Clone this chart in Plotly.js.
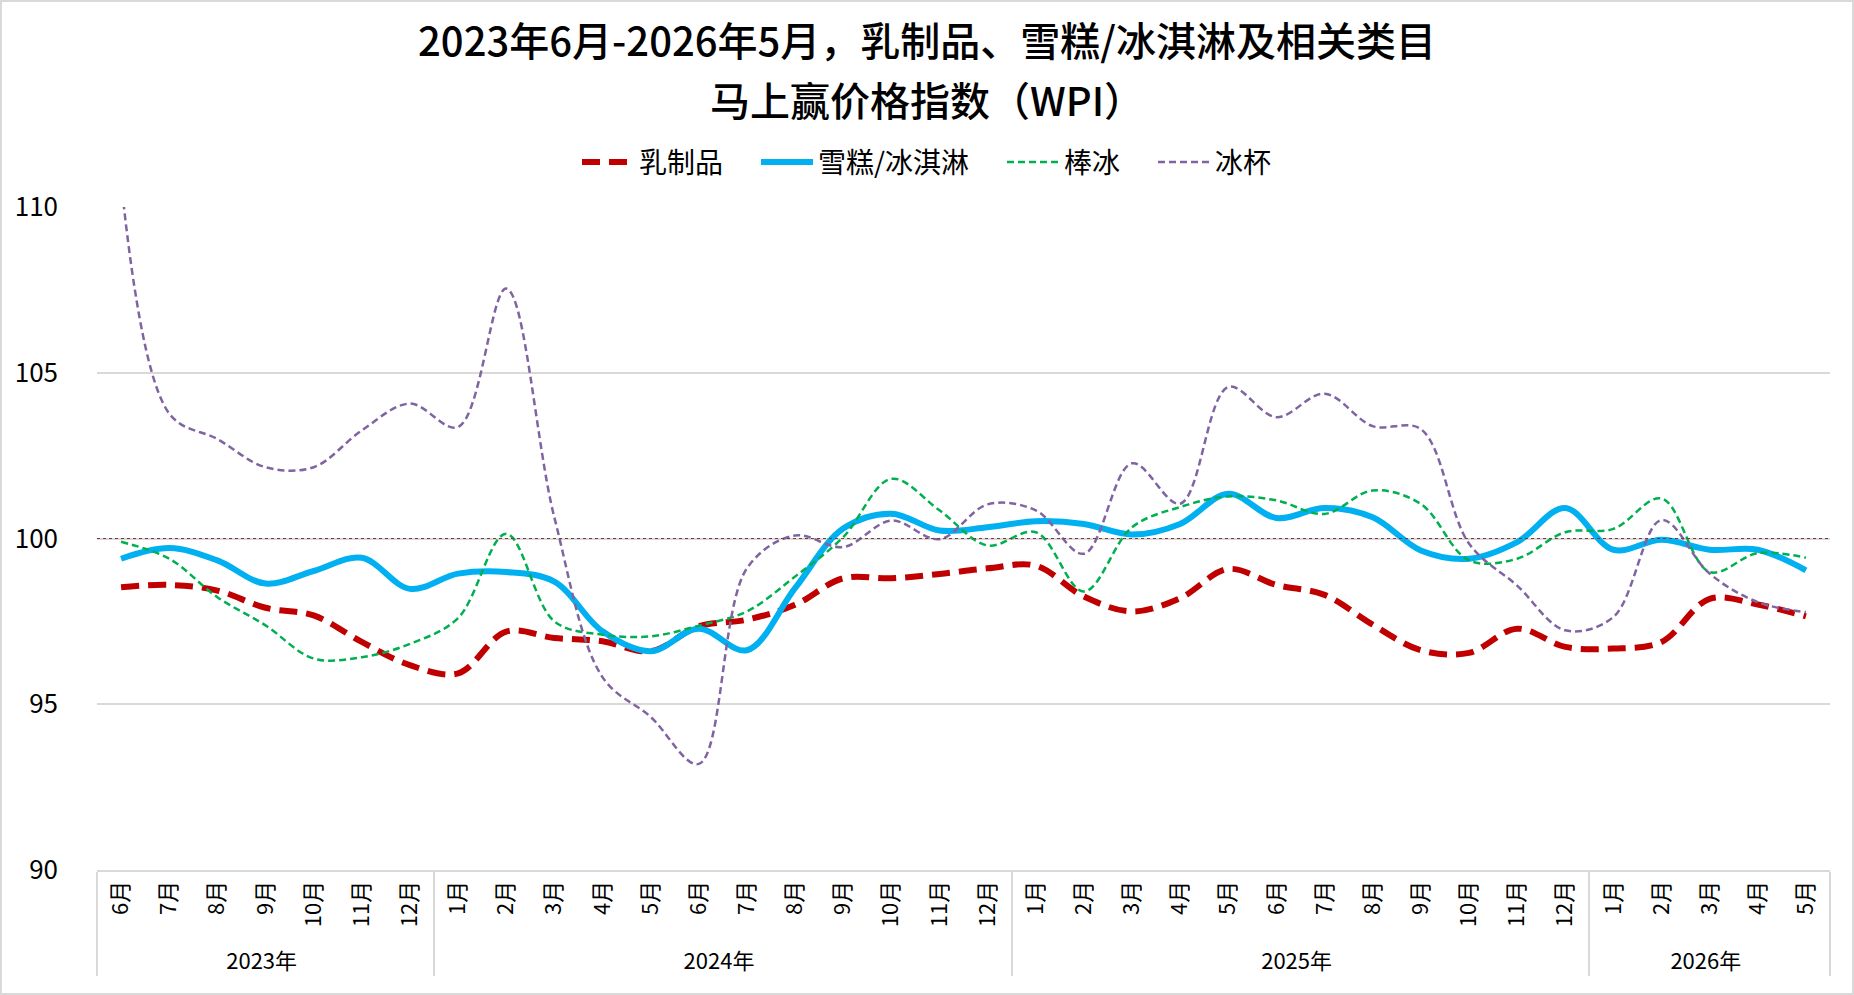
<!DOCTYPE html>
<html>
<head>
<meta charset="utf-8">
<script src="https://cdn.plot.ly/plotly-3.0.1.min.js"></script>
<style>
  html, body { margin: 0; padding: 0; background: #fff; }
  #wrap { position: relative; width: 1854px; height: 995px; }
  #myDiv { width: 1854px; height: 995px; }
  #frame { position: absolute; left: 0; top: 0; width: 1854px; height: 995px;
           box-sizing: border-box; border: 2px solid #d9d9d9; pointer-events: none; }
</style>
</head>
<body>
<div id="wrap">
  <div id="myDiv"></div>
  <div id="frame"></div>
</div>
<script>
// Month / year categories (Jun 2023 - May 2026)
var years  = ['2023年','2023年','2023年','2023年','2023年','2023年','2023年',
              '2024年','2024年','2024年','2024年','2024年','2024年','2024年','2024年','2024年','2024年','2024年','2024年',
              '2025年','2025年','2025年','2025年','2025年','2025年','2025年','2025年','2025年','2025年','2025年','2025年',
              '2026年','2026年','2026年','2026年','2026年'];
var months = ['6月','7月','8月','9月','10月','11月','12月',
              '1月','2月','3月','4月','5月','6月','7月','8月','9月','10月','11月','12月',
              '1月','2月','3月','4月','5月','6月','7月','8月','9月','10月','11月','12月',
              '1月','2月','3月','4月','5月'];

// WPI values
var dairy = [98.53, 98.60, 98.43, 97.91, 97.68, 96.88, 96.18,
             95.93, 97.19, 97.00, 96.90, 96.60, 97.35, 97.55, 98.00, 98.80, 98.80, 98.93, 99.10,
             99.18, 98.25, 97.80, 98.20, 99.08, 98.60, 98.30, 97.40, 96.63, 96.55, 97.28, 96.73,
             96.68, 96.88, 98.18, 98.01, 97.65];
var iceCream = [99.39, 99.71, 99.34, 98.64, 99.02, 99.42, 98.48,
                98.94, 98.99, 98.70, 97.20, 96.60, 97.28, 96.63, 98.50, 100.30, 100.75, 100.24, 100.34,
                100.52, 100.44, 100.12, 100.44, 101.35, 100.62, 100.92, 100.64, 99.64, 99.39, 99.89, 100.92,
                99.66, 99.96, 99.66, 99.66, 99.04];
var iceBar = [99.90, 99.39, 98.23, 97.38, 96.38, 96.42, 96.82,
              97.60, 100.14, 97.50, 97.10, 97.05, 97.37, 97.80, 98.85, 100.04, 101.80, 100.85, 99.79,
              100.19, 98.40, 100.34, 100.95, 101.27, 101.15, 100.74, 101.45, 101.04, 99.34, 99.39, 100.19,
              100.29, 101.21, 98.99, 99.56, 99.42];
var iceCup = [110.80, 103.77, 103.00, 102.15, 102.15, 103.26, 104.07,
              103.36, 107.54, 100.64, 95.82, 94.62, 93.20, 99.10, 100.09, 99.74, 100.54, 99.98, 101.03,
              100.85, 99.54, 102.27, 101.05, 104.57, 103.66, 104.37, 103.39, 103.30, 99.85, 98.58, 97.23,
              97.63, 100.56, 98.94, 98.08, 97.78];

var seriesNames = ['乳制品', '雪糕/冰淇淋', '棒冰', '冰杯'];
var titleLines = ['2023年6月-2026年5月，乳制品、雪糕/冰淇淋及相关类目', '马上赢价格指数（WPI）'];
var yTicks = [90, 95, 100, 105, 110];
var baseLine = 100;

var font = '"Noto Sans CJK SC", "Noto Sans", sans-serif';

// multicategory orders inner labels by first appearance, so the 2023
// months get a zero-width mark to keep every later year in calendar order
var monthKeys = months.map(function(m, i) {
  return years[i] === years[0] ? m + '\u200b' : m;
});
var xcat = [years, monthKeys];

// a full-width space after each name spreads the legend like the original
function legendName(s) { return s + '\u3000'; }

var data = [
  {
    x: xcat, y: dairy, name: legendName(seriesNames[0]), type: 'scatter', mode: 'lines',
    line: {color: '#C00000', width: 6, dash: '18px,9px', shape: 'spline', smoothing: 1}
  },
  {
    x: xcat, y: iceCream, name: legendName(seriesNames[1]), type: 'scatter', mode: 'lines',
    line: {color: '#00B0F0', width: 6, shape: 'spline', smoothing: 1}
  },
  {
    x: xcat, y: iceBar, name: legendName(seriesNames[2]), type: 'scatter', mode: 'lines',
    line: {color: '#00B050', width: 2.5, dash: '7px,4px', shape: 'spline', smoothing: 1}
  },
  {
    x: xcat, y: iceCup, name: seriesNames[3], type: 'scatter', mode: 'lines',
    line: {color: '#8064A2', width: 2.5, dash: '7px,4px', shape: 'spline', smoothing: 1}
  }
];

var W = 1854, H = 995;
var mTop = 207, mBottom = 125;
var plotH = H - mTop - mBottom;

var layout = {
  width: W,
  height: H,
  margin: {l: 97, r: 24, t: mTop, b: mBottom},
  paper_bgcolor: '#fff',
  plot_bgcolor: '#fff',
  font: {family: font, color: '#000'},
  title: {
    text: titleLines[0],
    font: {family: font, size: 40, color: '#000', weight: 500},
    xref: 'container', x: 0.5, xanchor: 'center',
    yref: 'container', y: 1 - 42 / H, yanchor: 'middle'
  },
  // second title line kept as its own text so the two lines do not collide
  annotations: [
    {
      text: titleLines[1], showarrow: false,
      xref: 'paper', x: (W / 2 - 97) / (W - 97 - 24), xanchor: 'center',
      yref: 'paper', y: 1 + (mTop - 99) / plotH, yanchor: 'middle',
      font: {family: font, size: 40, color: '#000', weight: 500}
    }
  ],
  showlegend: true,
  legend: {
    orientation: 'h',
    xref: 'container', x: 0.5, xanchor: 'center',
    yref: 'container', y: 0.837, yanchor: 'middle',
    font: {family: font, size: 28, color: '#000'},
    itemwidth: 52,
    traceorder: 'normal'
  },
  xaxis: {
    type: 'multicategory',
    range: [-0.5, months.length - 0.5],
    tickangle: -90,
    tickfont: {family: font, size: 22, color: '#000'},
    showgrid: false,
    showline: true,
    linecolor: '#d9d9d9',
    linewidth: 2,
    ticks: '',
    showdividers: true,
    dividercolor: '#d9d9d9',
    dividerwidth: 2
  },
  yaxis: {
    range: [90, 110],
    tickvals: yTicks,
    ticktext: yTicks.map(String),
    tickfont: {family: font, size: 26, color: '#000'},
    showgrid: true,
    gridcolor: '#d9d9d9',
    gridwidth: 2,
    zeroline: false,
    showline: false,
    ticks: '',
    ticklabelstandoff: 38
  },
  shapes: [
    {
      type: 'line', xref: 'paper', x0: 0, x1: 1, yref: 'y', y0: baseLine, y1: baseLine,
      line: {color: '#7A3A38', width: 1.2, dash: 'dot'}
    }
  ]
};

Plotly.newPlot('myDiv', data, layout, {displayModeBar: false, staticPlot: true});
</script>
</body>
</html>
